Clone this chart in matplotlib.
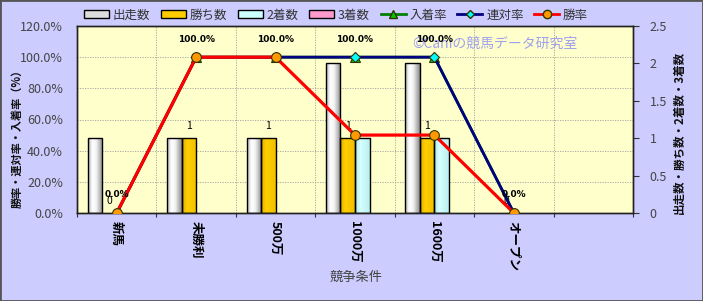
import numpy as np
import matplotlib
matplotlib.use('Agg')
import matplotlib.pyplot as plt
from matplotlib.patches import Patch, Rectangle
from matplotlib.lines import Line2D
from matplotlib.colors import LinearSegmentedColormap
from matplotlib.ticker import FuncFormatter, FixedLocator
from matplotlib.transforms import blended_transform_factory

plt.rcParams['font.family'] = ['Noto Sans CJK JP', 'DejaVu Sans']

# ---- data ----
categories = ['新馬', '未勝利', '500万', '1000万', '1600万', 'オープン', '']
starts = [1, 1, 1, 2, 2, 0]
wins = [0, 1, 1, 1, 1, 0]
seconds = [0, 0, 0, 1, 1, 0]
thirds = [0, 0, 0, 0, 0, 0]
place_rate = [0.0, 100.0, 100.0, 100.0, 100.0, 0.0]
rentai_rate = [0.0, 100.0, 100.0, 100.0, 100.0, 0.0]
win_rate = [0.0, 100.0, 100.0, 50.0, 50.0, 0.0]

bar_series = [('出走数', starts, '#FFFFFF'),
              ('勝ち数', wins, '#FFCC00'),
              ('2着数', seconds, '#CCFFFF'),
              ('3着数', thirds, '#FF99CC')]
line_series = [('入着率', place_rate, '#008000', '^', '#00CC00', 7),
               ('連対率', rentai_rate, '#000080', 'D', '#00FFFF', 5),
               ('勝率', win_rate, '#FF0000', 'o', '#FF9900', 7)]

W, H = 703, 301
fig = plt.figure(figsize=(W / 100, H / 100), dpi=100)
fig.patch.set_facecolor('#CCCCFF')

L, R, T, B = 77, 633, 26, 213
ax = fig.add_axes([L / W, 1 - B / H, (R - L) / W, (B - T) / H])
ax.set_facecolor('#FFFFCC')
ax2 = ax.twinx()

x = np.arange(len(starts))
bw = 0.183
offsets = [-1.5, -0.5, 0.5, 1.5]

white_cmap = LinearSegmentedColormap.from_list(
    'w', [(0, '#b0b0b0'), (0.28, '#ffffff'), (0.55, '#f4f4f4'), (1, '#8c8c8c')])
gold_cmap = LinearSegmentedColormap.from_list(
    'g', [(0, '#e0aa00'), (0.35, '#ffd000'), (1, '#f0c000')])
cyan_cmap = LinearSegmentedColormap.from_list(
    'c', [(0, '#a8e8e8'), (0.35, '#d8ffff'), (1, '#b8f0f0')])
grad = np.linspace(0, 1, 64).reshape(1, -1)
cmaps = {'出走数': white_cmap, '勝ち数': gold_cmap, '2着数': cyan_cmap}

bar_containers = []
for (name, vals, col), off in zip(bar_series, offsets):
    bars = ax.bar(x + off * bw, vals, bw, color=col, linewidth=0, zorder=2)
    bar_containers.append(bars)
    cmap = cmaps.get(name)
    for p in bars.patches:
        if p.get_height() <= 0:
            p.set_visible(False)
            continue
        if cmap is not None:
            im = ax.imshow(grad, extent=(p.get_x(), p.get_x() + p.get_width(),
                                         0, p.get_height()),
                           aspect='auto', cmap=cmap, zorder=2.2,
                           interpolation='bilinear')
            im.set_clip_path(p)
        ax.add_patch(Rectangle((p.get_x(), 0), p.get_width(), p.get_height(),
                               fill=False, edgecolor='black', linewidth=1.0,
                               zorder=2.5))

ax.set_xlim(-0.5, len(categories) - 0.5)
ax.set_ylim(0, 2.5)
ax2.set_ylim(0, 1.2)

# bar value labels (勝ち数)
for p in bar_containers[1].patches:
    ax.annotate(f'{int(p.get_height())}', (p.get_x() + p.get_width() / 2, p.get_height()),
                xytext=(0, 9), textcoords='offset points', ha='center', va='center',
                fontsize=7.5, color='black', zorder=6)

# horizontal grid (percent scale) behind bars
tr = blended_transform_factory(ax.transAxes, ax2.transData)
for yv in [0.2, 0.4, 0.6, 0.8, 1.0]:
    ax.add_line(Line2D([0, 1], [yv, yv], transform=tr, color='#a0a0a0',
                       linestyle=(0, (1.5, 1.5)), linewidth=0.6, zorder=1))

# lines
for name, vals, col, mk, mfc, ms in line_series:
    ax2.plot(x, np.array(vals) / 100.0, color=col, linewidth=2.0 if name != '勝率' else 2.3,
             marker=mk, markerfacecolor=mfc, markeredgecolor='#333300',
             markeredgewidth=0.8, markersize=ms, zorder=3)

for xi, v in zip(x, place_rate):
    ax2.annotate(f'{v:.1f}%', (xi, v / 100.0), xytext=(0, 13), textcoords='offset points',
                 ha='center', va='center', fontsize=6.5, fontweight='bold',
                 family=['DejaVu Sans'], color='black', zorder=6)

# axes / ticks
ax.yaxis.tick_right()
ax.yaxis.set_label_position('right')
ax2.yaxis.tick_left()
ax2.yaxis.set_label_position('left')

ax.set_yticks(np.arange(0, 2.51, 0.5))
ax.yaxis.set_major_formatter(FuncFormatter(lambda v, p: f'{v:g}'))
ax.tick_params(axis='y', which='major', direction='out', length=4, pad=8,
               labelsize=9, labelcolor='#444444', color='#333333')

ax2.set_yticks(np.arange(0, 1.21, 0.2))
ax2.yaxis.set_major_formatter(FuncFormatter(lambda v, p: f'{v * 100:.1f}%'))
ax2.tick_params(axis='y', which='major', direction='out', length=0, pad=10,
                labelsize=9, labelcolor='#444444')

ax.xaxis.set_major_locator(FixedLocator(np.arange(-0.5, len(categories), 1.0)))
ax.xaxis.set_minor_locator(FixedLocator(np.arange(len(categories))))
ax.set_xticklabels([], minor=False)
ax.set_xticklabels(categories, minor=True, rotation=-90, va='top', ha='center',
                   fontsize=9, color='black', fontweight='bold')
ax.tick_params(axis='x', which='major', direction='out', length=3, color='#333333')
ax.tick_params(axis='x', which='minor', length=0, pad=6)
ax.grid(axis='x', which='major', color='#a0a0a0', linestyle=(0, (1.5, 1.5)), linewidth=0.6)
ax.set_axisbelow(True)

for a in (ax, ax2):
    for s in a.spines.values():
        s.set_color('#222222')
        s.set_linewidth(1.0)

ax2.set_ylabel('勝率・連対率・入着率（%）', fontsize=8, color='#111111', fontweight='bold')
ax2.yaxis.set_label_coords(-0.096, 0.41)
ax.set_ylabel('出走数・勝ち数・2着数・3着数', fontsize=8.3, color='#111111', rotation=90,
              fontweight='bold')
ax.yaxis.set_label_coords(1.072, 0.43)
ax.set_xlabel('競争条件', fontsize=9.5, color='#444444')
ax.xaxis.set_label_coords(0.502, -0.31)

ax.text(0.752, 0.905, '©Caniの競馬データ研究室', transform=ax.transAxes,
        color='#A0A0F0', fontsize=10, ha='center', va='center', zorder=0.5)

# legend
handles = []
labels = []
for name, vals, col in bar_series:
    handles.append(Patch(facecolor=col if name != '出走数' else '#dddddd',
                         edgecolor='black', linewidth=1.0))
    labels.append(name)
for name, vals, col, mk, mfc, ms in line_series:
    handles.append(Line2D([], [], color=col, linewidth=2, marker=mk,
                          markerfacecolor=mfc, markeredgecolor='#333300',
                          markersize=ms - 1))
    labels.append(name)
fig.legend(handles, labels, ncol=7, loc='center', bbox_to_anchor=(0.478, 0.95),
           frameon=False, fontsize=9, handlelength=2.0, handleheight=0.6,
           columnspacing=0.85, handletextpad=0.3, labelcolor='#333333')

fig.add_artist(Rectangle((0, 0), 1, 1, transform=fig.transFigure, fill=False,
                         edgecolor='#555555', linewidth=2))

fig.savefig('out.png', dpi=100, facecolor=fig.get_facecolor())
